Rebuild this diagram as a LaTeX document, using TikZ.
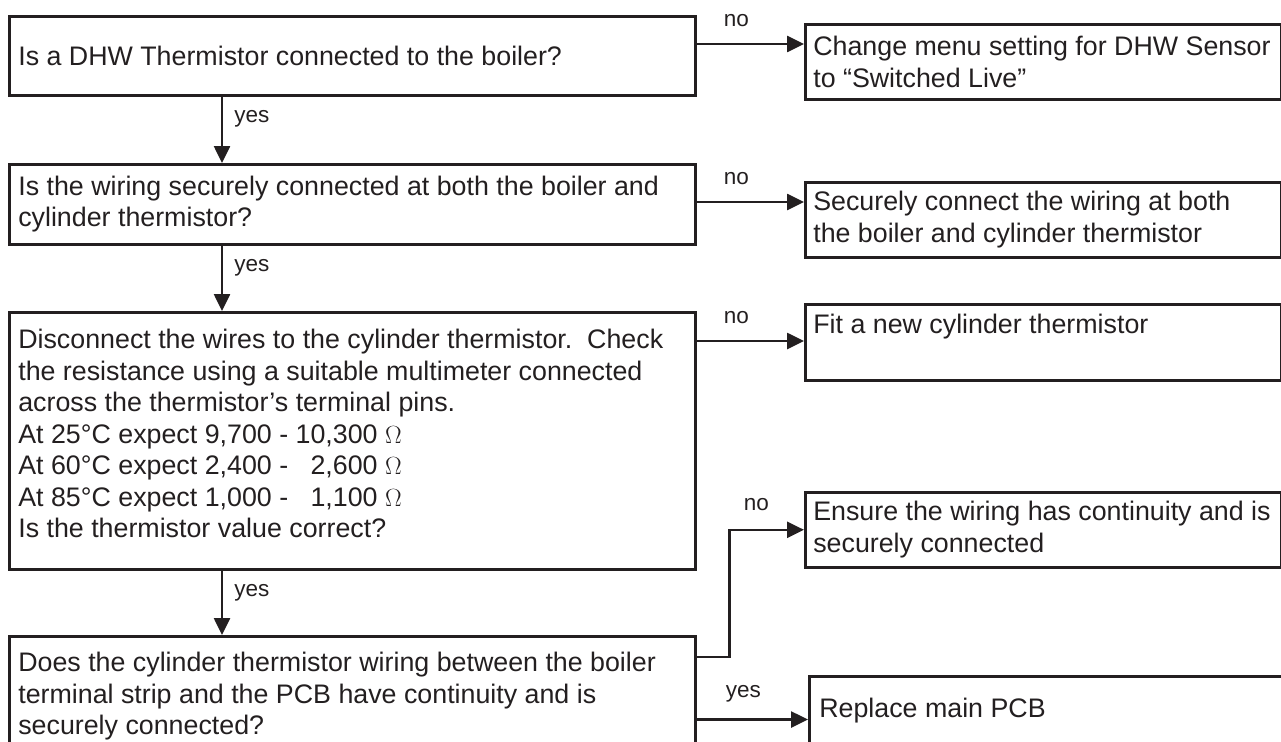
\documentclass[tikz,border=0pt]{standalone}
\usepackage{fontspec}
\setmainfont{Liberation Sans}
\usepackage{tikz}
\usetikzlibrary{arrows.meta}
\definecolor{cInk}{HTML}{231F20}

\begin{document}
\begin{tikzpicture}[x=1pt,y=-1pt,
    qbox/.style={draw=cInk,text=cInk,line width=2.6pt,anchor=north west,align=flush left,
      text width=668pt,inner xsep=9pt,inner ysep=0pt,font=\fontsize{26.8}{31.5}\selectfont},
    abox/.style={qbox,text width=460pt,inner xsep=8pt},
    lbl/.style={text=cInk,inner sep=0pt,font=\fontsize{22.5}{27}\selectfont},
    arr/.style={draw=cInk,line width=2.6pt,-{Triangle[length=17pt,width=16pt]}}]
  \useasboundingbox (0,0) rectangle (1281,741);
  \coordinate (spine) at (222,0);
  % questions
  \node[qbox,minimum height=79pt] (q1) at (8,15) {Is a DHW Thermistor connected to the boiler?};
  \node[qbox,minimum height=80pt] (q2) at (8,163) {Is the wiring securely connected at both the boiler and\\cylinder thermistor?};
  \node[qbox,inner ysep=17pt,text depth=204pt] (q3) at (8,311)
    {Disconnect the wires to the cylinder thermistor.\ \ Check\\the resistance using a suitable multimeter connected\\across the thermistor’s terminal pins.\\At 25°C expect 9,700 - 10,300 $\Omega$\\At 60°C expect 2,400 - \phantom{1}2,600 $\Omega$\\At 85°C expect 1,000 - \phantom{1}1,100 $\Omega$\\Is the thermistor value correct?};
  \node[qbox,inner ysep=16pt,text depth=95pt] (q4) at (8,635)
    {Does the cylinder thermistor wiring between the boiler\\terminal strip and the PCB have continuity and is\\securely connected?};
  % actions
  \node[abox,minimum height=75pt] (r1) at (804,23) {Change menu setting for DHW Sensor\\to “Switched Live”};
  \node[abox,minimum height=75pt] (r2) at (804,181) {Securely connect the wiring at both\\the boiler and cylinder thermistor};
  \node[abox,inner ysep=10pt,text depth=37pt] (r3) at (804,303) {Fit a new cylinder thermistor};
  \node[abox,minimum height=75pt] (r4) at (804,491) {Ensure the wiring has continuity and is\\securely connected};
  \node[abox,inner ysep=22pt,text depth=23pt,inner xsep=10pt] (r5) at (808,675) {Replace main PCB};
  % yes
  \foreach \a/\b in {q1/q2,q2/q3,q3/q4}
    \draw[arr] (\a.south -| spine) -- node[lbl,anchor=west,pos=.34,xshift=11pt] {yes} (\b.north -| spine);
  % no
  \draw[arr] (q1.east |- 0,44) -- node[lbl,above=16pt,pos=.37] {no} (r1.west |- 0,44);
  \draw[arr] (q2.east |- 0,202) -- node[lbl,above=16pt,pos=.37] {no} (r2.west |- 0,202);
  \draw[arr] (q3.east |- 0,341) -- node[lbl,above=16pt,pos=.37] {no} (r3.west |- 0,341);
  \draw[arr] (q4.east |- 0,657) -- ++(33,0) |- node[lbl,above=18pt,pos=.68] {no} (r4.west);
  \draw[arr] (q4.east |- r5.west) -- node[lbl,above=16pt,pos=.42] {yes} (r5.west);
\end{tikzpicture}
\end{document}
